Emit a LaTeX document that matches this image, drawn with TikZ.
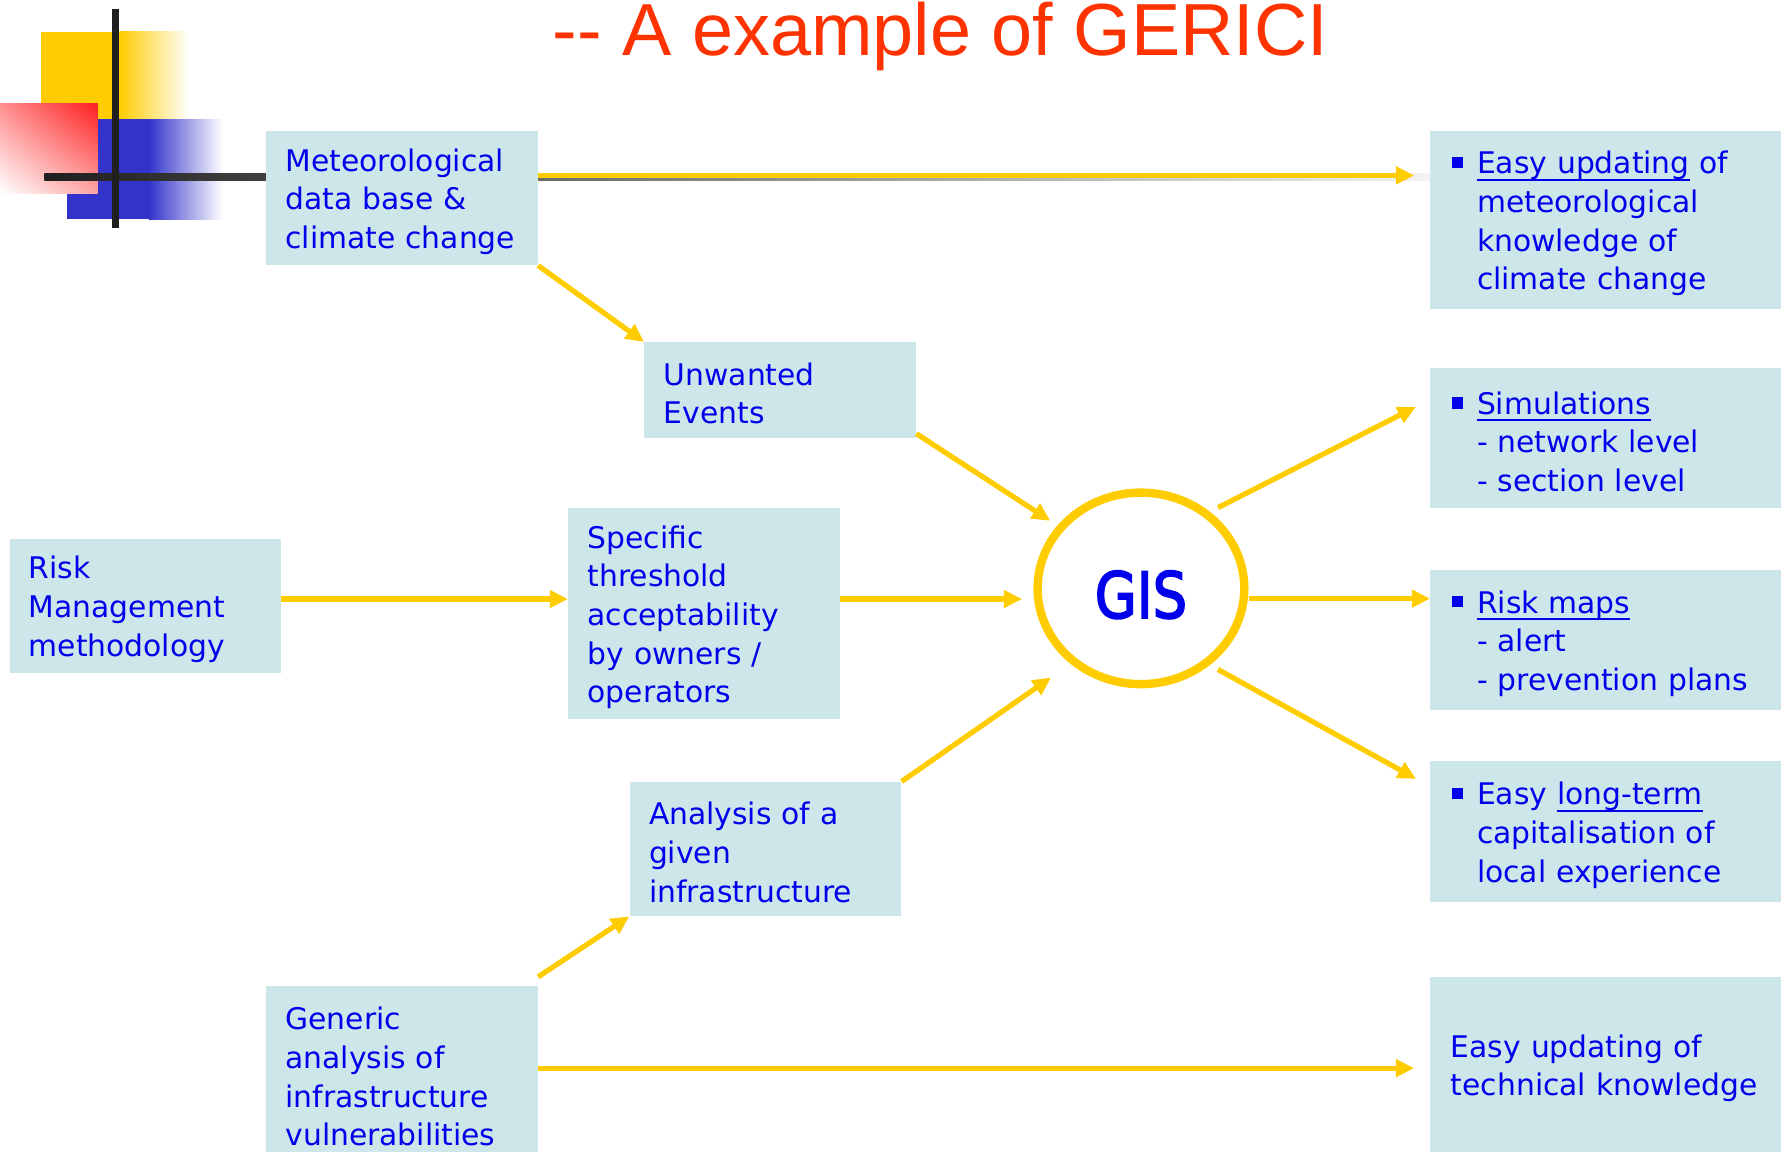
\documentclass[tikz,border=0pt]{standalone}
\usepackage{fontspec}
\setmainfont{DejaVu Sans}
\newfontfamily\headfont{Liberation Sans}
\newfontfamily\gisfont[FakeBold=3]{DejaVu Sans}
\usetikzlibrary{arrows.meta,shapes.geometric,shadings}

\definecolor{boxfill}{RGB}{204,230,234}
\definecolor{txtblue}{RGB}{0,0,235}
\definecolor{gold}{RGB}{255,204,0}
\definecolor{headred}{RGB}{255,51,0}
\definecolor{decoblue}{RGB}{51,51,204}
\definecolor{decored}{RGB}{255,30,30}

% bullet, hanging indent and a flat underline for the result boxes
\newcommand\sq{\makebox[11pt][l]{\rule[2.5pt]{5pt}{5pt}}}
\newcommand\ind{\hspace*{11pt}}
\newcommand\undl[1]{\setbox0\hbox{#1}\rlap{\rule[-2.9pt]{\wd0}{0.6pt}}\box0\relax}

\begin{document}
\begin{tikzpicture}[x=0.5pt, y=-0.5pt, >={Triangle[length=8pt,width=7.5pt]},
    box/.style={fill=boxfill, text=txtblue, anchor=north west, align=left,
        inner xsep=8.5pt, inner ysep=0pt, text width=102.5pt,
        font=\fontsize{13.1}{17}\selectfont,
        execute at begin node={\rule{0pt}{13pt}}},
    outbox/.style={box, inner xsep=9.5pt, text width=135.5pt},
    arr/.style={->, draw=gold, line width=2.3pt},
    gisnode/.style={ellipse, draw=gold, line width=3.7pt, minimum width=91pt,
        minimum height=84.3pt, inner sep=0pt, text height=26pt, text depth=0pt,
        text=txtblue, font=\gisfont\fontsize{28}{30}\selectfont}]

    \useasboundingbox (0,0) rectangle (1568,1014);

    % corner decoration
    \fill[gold] (36,28) rectangle (106,112);
    \shade[left color=gold, right color=white] (105,28) rectangle (166,112);
    \fill[decoblue] (59,105) rectangle (132,193);
    \shade[left color=decoblue, right color=white] (131,105) rectangle (196,193);
    \shade[upper left=decored!50, upper right=decored, lower left=white,
        lower right=decored!40] (0,91) rectangle (86,170);
    \shade[left color=black!88, right color=black!5] (39,153) rectangle (1259,159);
    \fill[black!88] (99,8) rectangle (105,201);

    \node[font=\headfont\fontsize{32.5}{36}\selectfont, text=headred, anchor=base,
        inner sep=0pt] (head) at (828,48.6) {-{}- A example of GERICI};

    % inputs
    \node[box, minimum height=59pt] (met) at (234,115) {Meteorological\\data base \&\\climate change};
    \node[box, minimum height=42pt] (unw) at (567,301) {Unwanted\\Events};
    \node[box, minimum height=59pt] (risk) at (8,474) {Risk\\Management\\methodology};
    \node[box, minimum height=93pt] (spec) at (500,447) {Specific\\threshold\\acceptability\\by owners /\\operators};
    \node[box, minimum height=59pt] (ana) at (554,688) {Analysis of a\\given\\infrastructure};
    \node[box, minimum height=76.5pt] (gen) at (234,868) {Generic\\analysis of\\infrastructure\\vulnerabilities};

    \node[gisnode] (gis) at (1004.5,518) {\scalebox{0.85}[1]{GIS}};

    % results
    \node[outbox, minimum height=78.5pt] (outA) at (1259,115) {\sq\undl{Easy updating} of\\\ind meteorological\\\ind knowledge of\\\ind climate change};
    \node[outbox, minimum height=61.5pt] (outB) at (1259,324) {\sq\undl{Simulations}\\\ind - network level\\\ind - section level};
    \node[outbox, minimum height=62pt] (outC) at (1259,501) {\sq\undl{Risk maps}\\\ind - alert\\\ind - prevention plans};
    \node[outbox, minimum height=62pt] (outD) at (1259,670) {\sq Easy \undl{long-term}\\\ind capitalisation of\\\ind local experience};
    \node[outbox, inner xsep=9pt, text width=136.5pt, minimum height=77pt] (outE) at (1259,860) {Easy updating of\\technical knowledge};

    \coordinate (metout) at ([yshift=10pt]met.east);
    \coordinate (riskout) at ([yshift=3pt]risk.east);
    \coordinate (specout) at ([yshift=6.5pt]spec.east);
    \coordinate (gisout) at ([yshift=-4.5pt]gis.east);
    \coordinate (genout) at ([yshift=2.25pt]gen.east);

    \draw[arr, shorten >=7pt] (metout) -- (metout -| outA.west);
    \draw[arr] (met.south east) -- (unw.north west);
    \draw[arr, shorten >=3.75pt] ([yshift=2pt]unw.south east) -- (gis.143);
    \draw[arr] (riskout) -- (riskout -| spec.west);
    \draw[arr, shorten >=5pt] (specout) -- (specout -| gis.west);
    \draw[arr, shorten >=10.5pt] (ana.north east) -- (gis.-133);
    \draw[arr] ([yshift=4pt]gen.north east) -- (ana.south west);
    \draw[arr, shorten >=7pt] (genout) -- (genout -| outE.west);

    \draw[arr, shorten <=4pt, shorten >=7pt] (gis.48) -- ([yshift=17pt]outB.west);
    \draw[arr] (gisout) -- (gisout -| outC.west);
    \draw[arr, shorten <=4pt, shorten >=7pt] (gis.-48) -- ([yshift=20pt]outD.west);

\end{tikzpicture}
\end{document}
